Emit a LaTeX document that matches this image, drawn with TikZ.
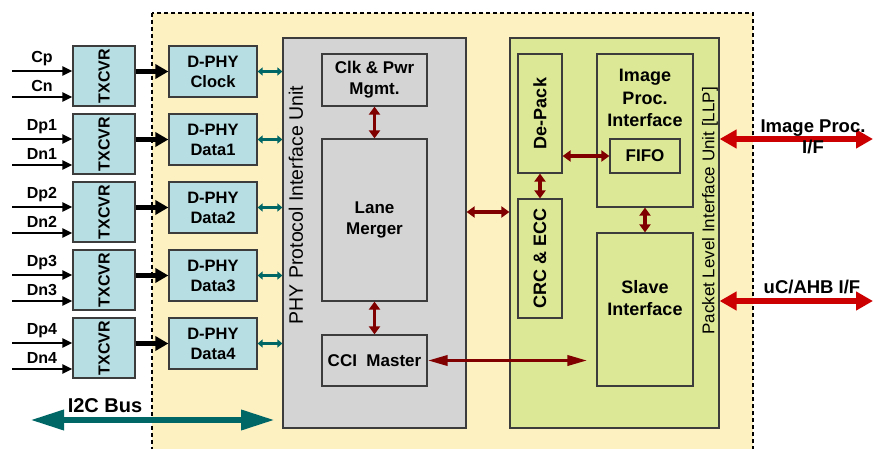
\documentclass[tikz,border=0pt]{standalone}
\usepackage{fontspec}
\setmainfont{Liberation Sans}
\usepackage{graphicx}
\usepackage{tikz}
\usetikzlibrary{arrows.meta}
\definecolor{chipyellow}{RGB}{253,240,193}
\definecolor{txcyan}{RGB}{183,222,226}
\definecolor{phygray}{RGB}{212,212,212}
\definecolor{llpgreen}{RGB}{220,232,150}
\definecolor{boxline}{RGB}{60,60,60}
\definecolor{darkred}{RGB}{128,0,0}
\definecolor{brightred}{RGB}{204,0,0}
\definecolor{busteal}{RGB}{0,102,102}
\tikzset{
  chipbox/.style={draw=black, fill=chipyellow, line width=1.8pt, dash pattern=on 4pt off 3pt},
  txbox/.style={draw=boxline, fill=txcyan, line width=1.2pt, minimum width=62pt, minimum height=60pt, inner sep=0pt, font=\fontsize{16}{19}\selectfont\bfseries},
  phybox/.style={draw=boxline, fill=txcyan, line width=1.2pt, minimum width=88pt, minimum height=51pt, inner sep=0pt, align=center, font=\fontsize{16.5}{20}\selectfont\bfseries},
  unitbox/.style={draw=boxline, line width=1.2pt, minimum width=183pt, minimum height=390pt, inner sep=0pt},
  unittitle/.style={rotate=90, inner sep=0pt},
  subbox/.style={draw=boxline, line width=1.2pt, inner sep=0pt, align=center, font=\fontsize{17}{21}\selectfont\bfseries},
  subtext/.style={align=center, inner sep=0pt, font=\fontsize{18}{22.5}\selectfont\bfseries},
  pinlabel/.style={font=\fontsize{16}{19}\selectfont\bfseries, text height=11.5pt, text depth=0pt, inner sep=0pt},
  sidelabel/.style={align=center, inner sep=0pt, font=\fontsize{18.5}{21}\selectfont\bfseries},
  inarrow/.style={-{Triangle[length=10pt,width=9pt]}, line width=2.5pt},
  lanearrow/.style={-{Triangle[length=13pt,width=14pt]}, line width=5.5pt},
  phylink/.style={{Triangle[length=5pt,width=8pt]}-{Triangle[length=5pt,width=8pt]}, line width=2.5pt, draw=busteal},
  redlink/.style={{Triangle[length=8pt,width=11pt]}-{Triangle[length=8pt,width=11pt]}, line width=3.8pt, draw=darkred},
  ccilink/.style={{Triangle[length=20pt,width=10pt]}-{Triangle[length=20pt,width=10pt]}, line width=3.5pt, draw=darkred},
  extlink/.style={{Triangle[length=17pt,width=18pt]}-{Triangle[length=17pt,width=18pt]}, line width=6.5pt, draw=brightred},
  i2clink/.style={{Triangle[length=34pt,width=19pt]}-{Triangle[length=34pt,width=19pt]}, line width=6.5pt, draw=busteal}
}
\begin{document}
\begin{tikzpicture}[x=1pt,y=-1pt]
  \useasboundingbox[fill=white] (0,0) rectangle (873,449);
  \draw[chipbox] (152,13) rectangle (753,470);
  \node[txbox] (tx0) at (104,76) {\rotatebox{90}{TXCVR}};
  \node[txbox] (tx1) at (104,144) {\rotatebox{90}{TXCVR}};
  \node[txbox] (tx2) at (104,212) {\rotatebox{90}{TXCVR}};
  \node[txbox] (tx3) at (104,280) {\rotatebox{90}{TXCVR}};
  \node[txbox] (tx4) at (104,348) {\rotatebox{90}{TXCVR}};
  \coordinate (cpin) at (12,71);
  \coordinate (cnin) at (12,97);
  \coordinate (dp1in) at (12,139);
  \coordinate (dn1in) at (12,165);
  \coordinate (dp2in) at (12,207);
  \coordinate (dn2in) at (12,233);
  \coordinate (dp3in) at (12,275);
  \coordinate (dn3in) at (12,301);
  \coordinate (dp4in) at (12,343);
  \coordinate (dn4in) at (12,369);
  \node[pinlabel] (cp) at (42,57) {Cp};
  \node[pinlabel] (cn) at (42,86) {Cn};
  \node[pinlabel] (dp1) at (42,125) {Dp1};
  \node[pinlabel] (dn1) at (42,154) {Dn1};
  \node[pinlabel] (dp2) at (42,193) {Dp2};
  \node[pinlabel] (dn2) at (42,222) {Dn2};
  \node[pinlabel] (dp3) at (42,261) {Dp3};
  \node[pinlabel] (dn3) at (42,290) {Dn3};
  \node[pinlabel] (dp4) at (42,329) {Dp4};
  \node[pinlabel] (dn4) at (42,358) {Dn4};
  \draw[inarrow] (cpin) -- (cpin -| tx0.west);
  \draw[inarrow] (cnin) -- (cnin -| tx0.west);
  \draw[inarrow] (dp1in) -- (dp1in -| tx1.west);
  \draw[inarrow] (dn1in) -- (dn1in -| tx1.west);
  \draw[inarrow] (dp2in) -- (dp2in -| tx2.west);
  \draw[inarrow] (dn2in) -- (dn2in -| tx2.west);
  \draw[inarrow] (dp3in) -- (dp3in -| tx3.west);
  \draw[inarrow] (dn3in) -- (dn3in -| tx3.west);
  \draw[inarrow] (dp4in) -- (dp4in -| tx4.west);
  \draw[inarrow] (dn4in) -- (dn4in -| tx4.west);
  \node[phybox] (dclk) at (213,71.5) {D-PHY\\Clock};
  \node[phybox] (ddat1) at (213,139.5) {D-PHY\\Data1};
  \node[phybox] (ddat2) at (213,207.5) {D-PHY\\Data2};
  \node[phybox] (ddat3) at (213,275.5) {D-PHY\\Data3};
  \node[phybox] (ddat4) at (213,343.5) {D-PHY\\Data4};
  \draw[lanearrow] (tx0.east |- dclk.west) -- (dclk.west);
  \draw[lanearrow] (tx1.east |- ddat1.west) -- (ddat1.west);
  \draw[lanearrow] (tx2.east |- ddat2.west) -- (ddat2.west);
  \draw[lanearrow] (tx3.east |- ddat3.west) -- (ddat3.west);
  \draw[lanearrow] (tx4.east |- ddat4.west) -- (ddat4.west);
  \node[unitbox, fill=phygray] (phy) at (374.5,233) {};
  \node[unittitle, font=\fontsize{19.5}{22}\selectfont] (phytitle) at (296,205) {PHY Protocol Interface Unit};
  \draw[phylink] (dclk.east) -- (dclk.east -| phy.west);
  \draw[phylink] (ddat1.east) -- (ddat1.east -| phy.west);
  \draw[phylink] (ddat2.east) -- (ddat2.east -| phy.west);
  \draw[phylink] (ddat3.east) -- (ddat3.east -| phy.west);
  \draw[phylink] (ddat4.east) -- (ddat4.east -| phy.west);
  \node[subbox, fill=phygray, minimum width=105pt, minimum height=52pt] (clk) at (374.5,80) {Clk \& Pwr\\Mgmt.};
  \node[subbox, fill=phygray, minimum width=105pt, minimum height=162pt] (lane) at (374.5,220) {Lane\\Merger};
  \node[subbox, fill=phygray, minimum width=105pt, minimum height=51pt] (cci) at (374.5,360.5) {CCI~ Master};
  \draw[redlink] (clk.south) -- (lane.north);
  \draw[redlink] (lane.south) -- (cci.north);
  \node[unitbox, fill=llpgreen, minimum width=209pt] (llp) at (614.5,233) {};
  \node[unittitle, font=\fontsize{17}{20}\selectfont] (llptitle) at (710,211) {Packet Level Interface Unit [LLP]};
  \node[subbox, fill=llpgreen, minimum width=44pt, minimum height=119pt, font=\fontsize{18}{21}\selectfont\bfseries] (depack) at (540,113.5) {\rotatebox{90}{De-Pack}};
  \node[subbox, fill=llpgreen, minimum width=44pt, minimum height=119pt, font=\fontsize{18}{21}\selectfont\bfseries] (crc) at (540,258.5) {\rotatebox{90}{CRC \& ECC}};
  \node[subbox, fill=llpgreen, minimum width=96pt, minimum height=153pt] (imgif) at (645,130.5) {};
  \node[subtext] (imgtxt) at (645,98) {Image\\Proc.\\Interface};
  \node[subbox, fill=llpgreen, minimum width=70pt, minimum height=34pt] (fifo) at (645,156) {FIFO};
  \node[subbox, fill=llpgreen, minimum width=96pt, minimum height=153pt] (slave) at (645,309.5) {};
  \node[subtext] (slavetxt) at (645,298) {Slave\\Interface};
  \draw[redlink] ([yshift=21pt]phy.east) -- ([yshift=21pt]llp.west);
  \draw[redlink] (depack.south) -- (crc.north);
  \draw[redlink] (depack.east |- fifo.west) -- (fifo.west);
  \draw[redlink] (imgif.south) -- (slave.north);
  \draw[ccilink, shorten >=9pt] (cci.east) -- (cci.east -| slave.west);
  \coordinate (imgout) at (873,139);
  \coordinate (ahbout) at (873,301);
  \draw[extlink] (imgout -| llp.east) -- (imgout);
  \draw[extlink] (ahbout -| llp.east) -- (ahbout);
  \node[sidelabel] (imglabel) at (813,137) {Image Proc.\\I/F};
  \node[sidelabel] (ahblabel) at (812,287) {uC/AHB I/F};
  \coordinate (i2cl) at (30,420);
  \coordinate (i2cr) at (275,420);
  \draw[i2clink] (i2cl) -- (i2cr);
  \node[font=\fontsize{20}{24}\selectfont\bfseries, inner sep=0pt] (i2clabel) at (105,406) {I2C Bus};
\end{tikzpicture}
\end{document}
